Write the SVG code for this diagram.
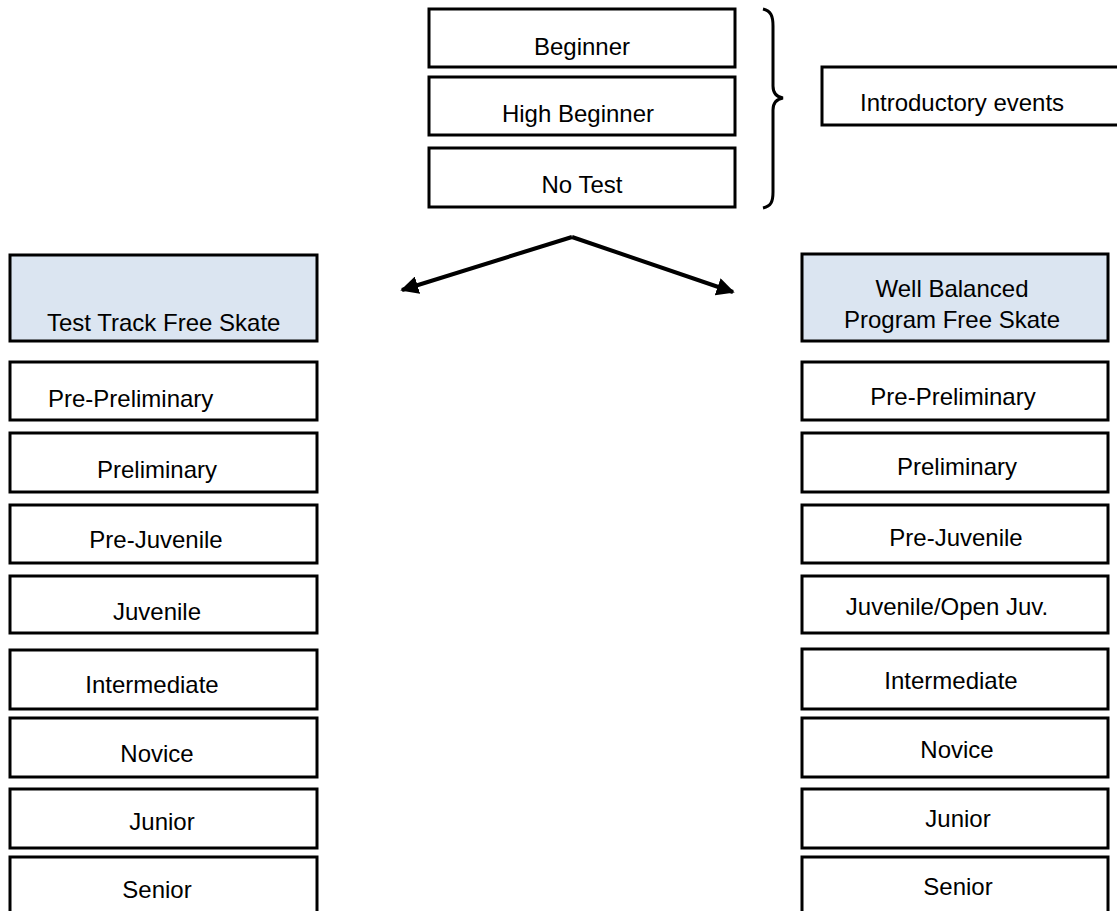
<svg xmlns="http://www.w3.org/2000/svg" width="1117" height="911" viewBox="0 0 1117 911">
<style>
.box{fill:#ffffff;stroke:#000000;stroke-width:3}
.hdr{fill:#dbe5f1;stroke:#000000;stroke-width:3}
.t{font-family:"Liberation Sans",Arial,sans-serif;font-size:24px;fill:#000000}
.c{text-anchor:middle}
.conn{fill:none;stroke:#000000;stroke-width:4}
</style>
<defs>
<marker id="ah" viewBox="0 0 10 10" refX="9" refY="5" markerWidth="4.5" markerHeight="4.5" orient="auto" markerUnits="strokeWidth">
<path d="M0,0 L10,5 L0,10 Z" fill="#000000"/>
</marker>
</defs>
<rect width="1117" height="911" fill="#ffffff"/>

<g id="beginner"><rect class="box" x="429" y="9" width="306" height="58"/><text class="t c" x="582" y="55">Beginner</text></g>
<g id="high-beginner"><rect class="box" x="429" y="77" width="306" height="58"/><text class="t c" x="578" y="122">High Beginner</text></g>
<g id="no-test"><rect class="box" x="429" y="148" width="306" height="59"/><text class="t c" x="582" y="193">No Test</text></g>

<g id="brace"><path d="M763,9 C771,11 773,16 773,26 L773,86 C773,94 777,97 783,98 C777,99 773,102 773,110 L773,192 C773,202 771,206 763,208" fill="none" stroke="#000000" stroke-width="3"/></g>

<g id="introductory"><rect class="box" x="822" y="67" width="300" height="58"/><text class="t" x="860" y="111">Introductory events</text></g>

<g id="connectors">
<path class="conn" d="M572,237 L402,290" marker-end="url(#ah)"/>
<path class="conn" d="M572,237 L733,292" marker-end="url(#ah)"/>
</g>

<g id="test-track"><rect class="hdr" x="10" y="255" width="307" height="86"/><text class="t" x="47" y="331">Test Track Free Skate</text></g>
<g id="l-pre-preliminary"><rect class="box" x="10" y="362" width="307" height="58"/><text class="t" x="48" y="407">Pre-Preliminary</text></g>
<g id="l-preliminary"><rect class="box" x="10" y="433" width="307" height="59"/><text class="t c" x="157" y="478">Preliminary</text></g>
<g id="l-pre-juvenile"><rect class="box" x="10" y="505" width="307" height="58"/><text class="t c" x="156" y="548">Pre-Juvenile</text></g>
<g id="l-juvenile"><rect class="box" x="10" y="576" width="307" height="57"/><text class="t c" x="157" y="620">Juvenile</text></g>
<g id="l-intermediate"><rect class="box" x="10" y="650" width="307" height="59"/><text class="t c" x="152" y="693">Intermediate</text></g>
<g id="l-novice"><rect class="box" x="10" y="718" width="307" height="59"/><text class="t c" x="157" y="762">Novice</text></g>
<g id="l-junior"><rect class="box" x="10" y="789" width="307" height="59"/><text class="t c" x="162" y="830">Junior</text></g>
<g id="l-senior"><rect class="box" x="10" y="857" width="307" height="70"/><text class="t c" x="157" y="898">Senior</text></g>

<g id="well-balanced"><rect class="hdr" x="802" y="254" width="306" height="87"/><text class="t c" x="952" y="297">Well Balanced</text><text class="t c" x="952" y="328">Program Free Skate</text></g>
<g id="r-pre-preliminary"><rect class="box" x="802" y="362" width="306" height="58"/><text class="t c" x="953" y="405">Pre-Preliminary</text></g>
<g id="r-preliminary"><rect class="box" x="802" y="433" width="306" height="59"/><text class="t c" x="957" y="475">Preliminary</text></g>
<g id="r-pre-juvenile"><rect class="box" x="802" y="505" width="306" height="58"/><text class="t c" x="956" y="546">Pre-Juvenile</text></g>
<g id="r-juvenile"><rect class="box" x="802" y="576" width="306" height="57"/><text class="t c" x="947" y="615">Juvenile/Open Juv.</text></g>
<g id="r-intermediate"><rect class="box" x="802" y="649" width="306" height="60"/><text class="t c" x="951" y="689">Intermediate</text></g>
<g id="r-novice"><rect class="box" x="802" y="718" width="306" height="59"/><text class="t c" x="957" y="758">Novice</text></g>
<g id="r-junior"><rect class="box" x="802" y="789" width="306" height="59"/><text class="t c" x="958" y="827">Junior</text></g>
<g id="r-senior"><rect class="box" x="802" y="857" width="306" height="70"/><text class="t c" x="958" y="895">Senior</text></g>
</svg>
